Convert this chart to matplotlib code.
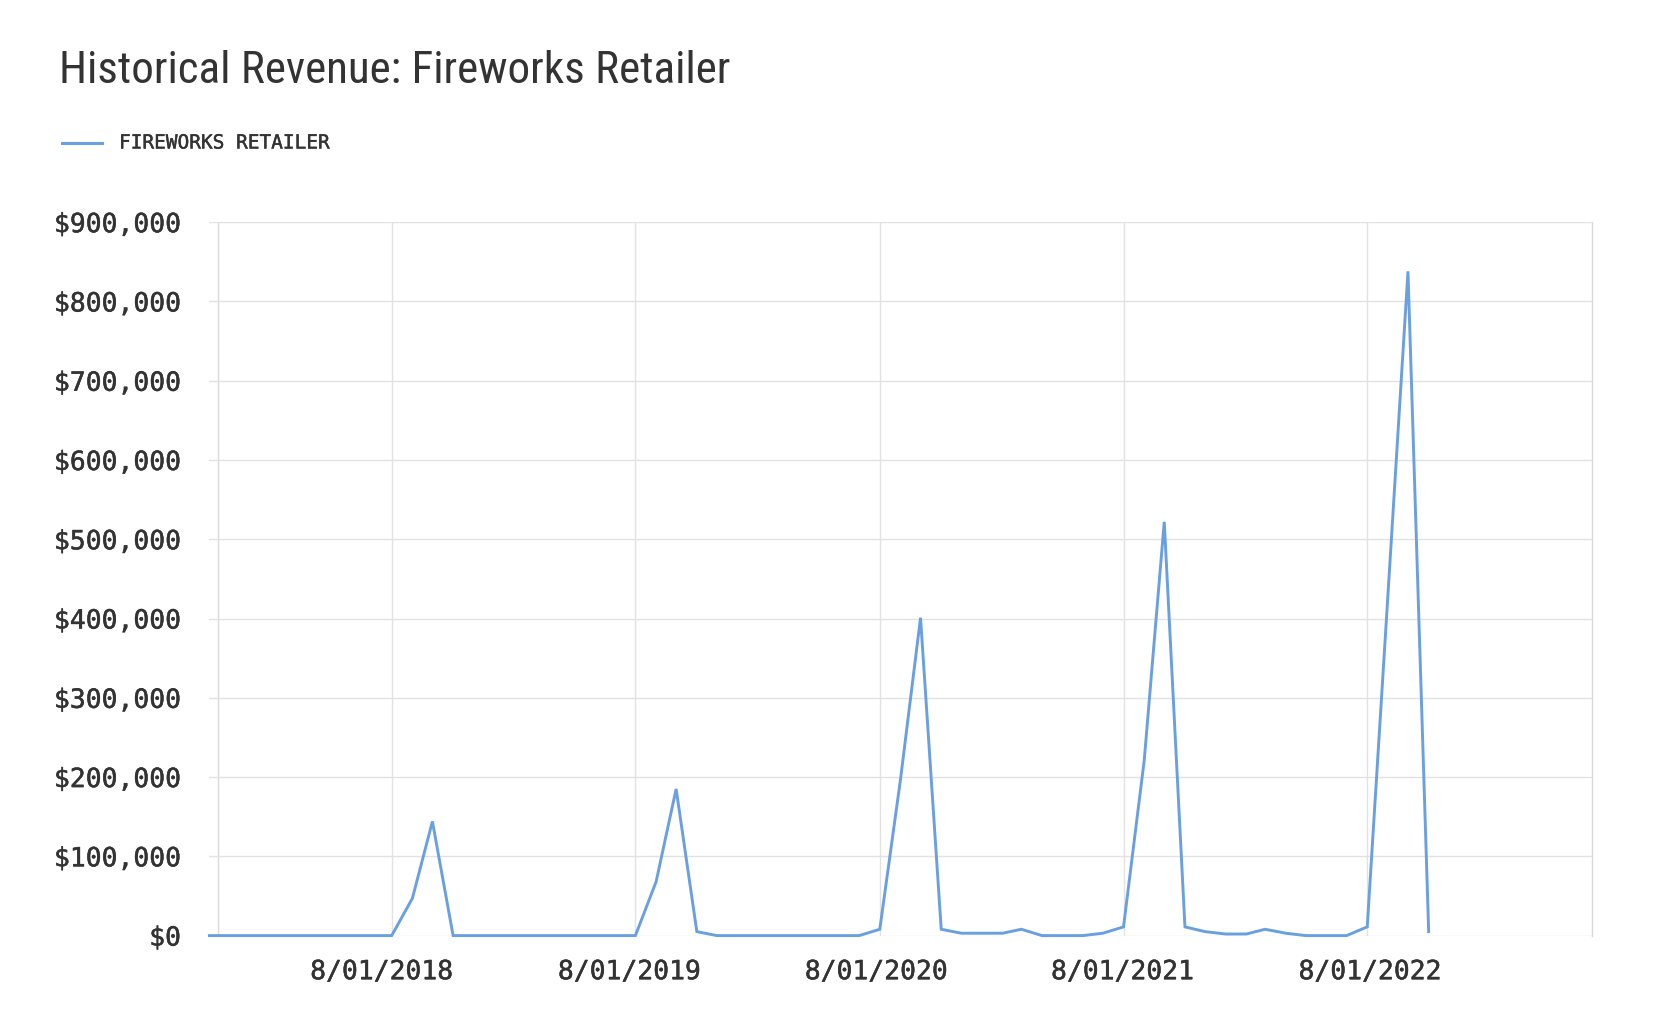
import matplotlib
matplotlib.use("Agg")
import matplotlib.pyplot as plt
import matplotlib.patheffects as pe
import matplotlib.transforms as mtrans
from matplotlib.lines import Line2D
from matplotlib.ticker import FuncFormatter
import pandas as pd

# ---- data ----
start_month = "2017-11-01"
revenue = [
    0, 0, 0, 0, 0, 0, 0, 0, 0, 0,            # Nov 2017 - Aug 2018
    47000, 144000,                           # Sep, Oct 2018
    0, 0, 0, 0, 0, 0, 0, 0, 0, 0,            # Nov 2018 - Aug 2019
    68000, 185000, 5000,                     # Sep - Nov 2019
    0, 0, 0, 0, 0, 0, 0, 0,                  # Dec 2019 - Jul 2020
    8000, 197000, 401000, 8000,              # Aug - Nov 2020
    3000, 3000, 3000, 8000, 0, 0, 0, 3000,   # Dec 2020 - Jul 2021
    11000, 221000, 522000, 11000,            # Aug - Nov 2021
    5000, 2000, 2000, 8000, 3000, 0, 0, 0,   # Dec 2021 - Jul 2022
    11000, 430000, 838000, 5000,             # Aug - Nov 2022
]
series_name = "FIREWORKS RETAILER"
title = "Historical Revenue: Fireworks Retailer"
xtick_dates = ["2018-08-01", "2019-08-01", "2020-08-01", "2021-08-01", "2022-08-01"]
xtick_labels = ["8/01/2018", "8/01/2019", "8/01/2020", "8/01/2021", "8/01/2022"]
yticks = [0, 100000, 200000, 300000, 400000, 500000, 600000, 700000, 800000, 900000]

months = pd.date_range(start_month, periods=len(revenue), freq="MS")

# ---- style ----
LINE_C = "#6a9fe0"
GRID_C = "#e2e2e2"
TEXT_C = "#333333"
MONO = ["DejaVu Sans Mono"]
heavier = [pe.withStroke(linewidth=0.35, foreground=TEXT_C)]
label_nudge_px = [-10.1, -6.1, -3.6, -1.1, 2.7]   # horizontal label offsets (layout only)

W, H = 1667, 1032
fig = plt.figure(figsize=(W / 100, H / 100), dpi=100)
fig.patch.set_facecolor("white")

ax = fig.add_axes([209.4 / W, 1 - 935.6 / H, (1591.6 - 209.4) / W, (935.6 - 222.2) / H])
ax.plot(months, revenue, color=LINE_C, lw=2.1, clip_on=False, zorder=3,
        solid_joinstyle="miter")

ax.set_xlim(pd.Timestamp("2017-11-01"), pd.Timestamp("2023-07-03"))
ax.set_ylim(0, 900000)

ax.set_yticks(yticks)
ax.yaxis.set_major_formatter(FuncFormatter(lambda v, p: f"${int(v):,}"))
ax.set_xticks([pd.Timestamp(d) for d in xtick_dates])
ax.set_xticklabels(xtick_labels)

for s in ax.spines.values():
    s.set_visible(False)
ax.grid(True, color=GRID_C, lw=1.0, zorder=0)
ax.tick_params(length=0, colors=TEXT_C)
ax.tick_params(axis="y", pad=20.5)
ax.tick_params(axis="x", pad=17)
for lbl in ax.get_yticklabels() + ax.get_xticklabels():
    lbl.set_family(MONO)
    lbl.set_fontsize(19)
    lbl.set_color(TEXT_C)
    lbl.set_path_effects(heavier)
for lbl, dx in zip(ax.get_xticklabels(), label_nudge_px):
    lbl.set_transform(lbl.get_transform() + mtrans.ScaledTranslation(dx / 100, 0, fig.dpi_scale_trans))

# left / right borders
ax.axvline(pd.Timestamp("2017-11-14"), color="#dadada", lw=1.0, zorder=1)
ax.axvline(pd.Timestamp("2023-07-03"), color="#dadada", lw=1.0, zorder=1, clip_on=False)

# title
fig.text(58.5 / W, 1 - 83 / H, title,
         family=["Roboto Condensed", "Liberation Sans Narrow", "Roboto", "DejaVu Sans"],
         fontsize=32.5, color=TEXT_C, va="baseline", ha="left")

# legend
fig.add_artist(Line2D([61.7 / W, 102 / W], [1 - 142.5 / H, 1 - 142.5 / H],
                      color=LINE_C, lw=2.2, transform=fig.transFigure))
fig.text(119 / W, 1 - 143 / H, series_name, family=MONO, fontsize=14,
         color=TEXT_C, va="center", ha="left",
         path_effects=[pe.withStroke(linewidth=0.3, foreground=TEXT_C)])

fig.savefig("out.png", dpi=100, facecolor="white")
